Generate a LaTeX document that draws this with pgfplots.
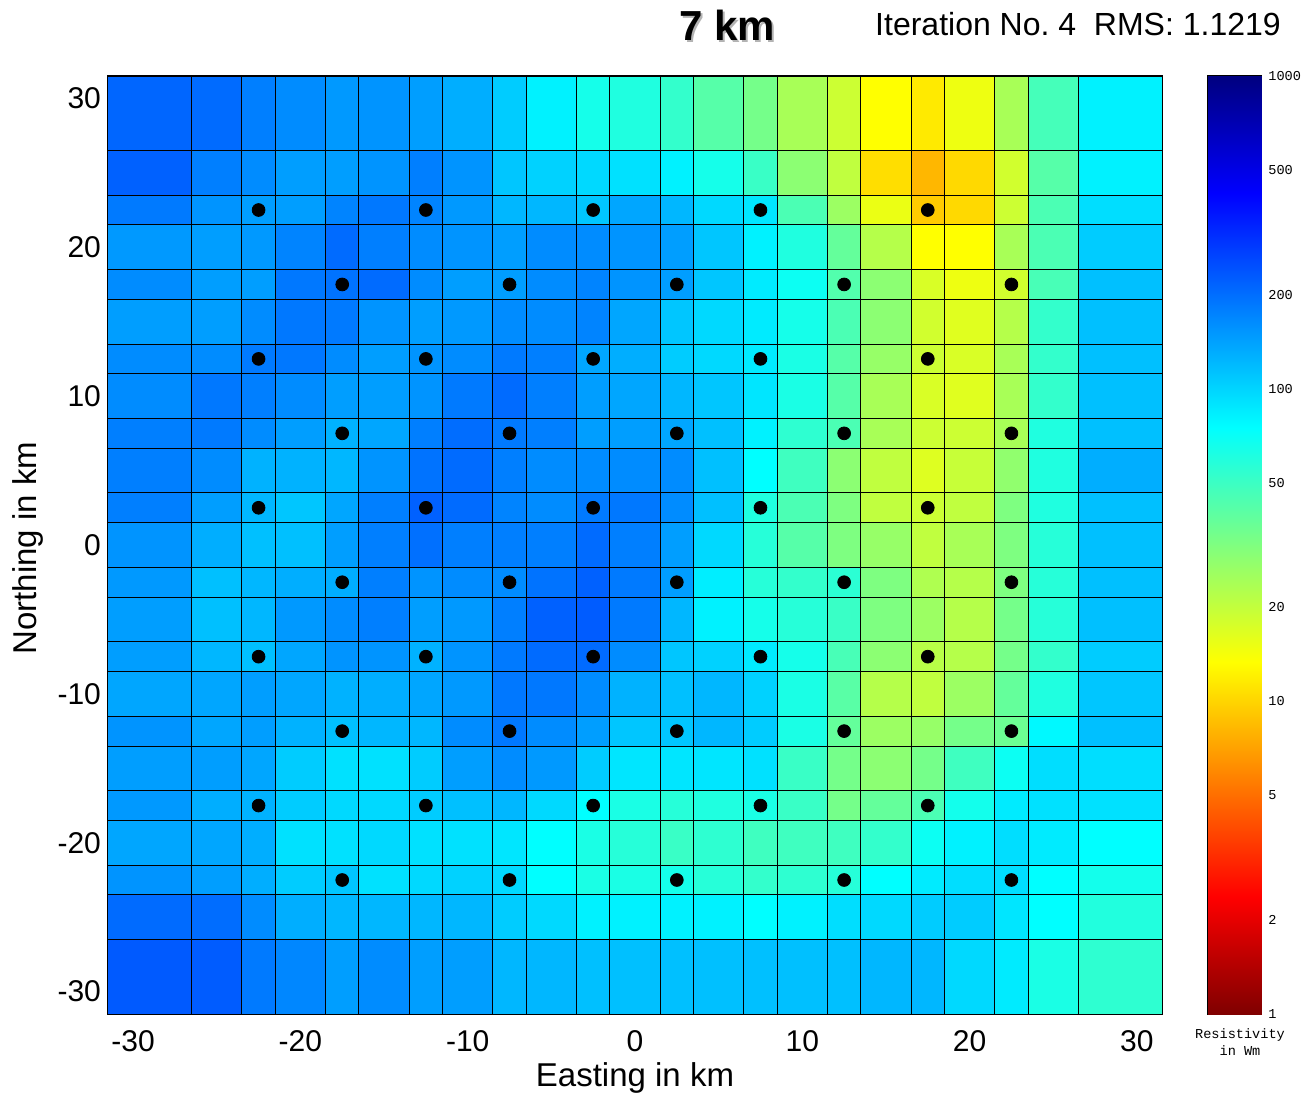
\documentclass[border=0pt]{standalone}
\usepackage{pgfplots}
\pgfplotsset{compat=1.18}
\usepackage{pgfplotstable}
\usepackage{fontspec}
\setmainfont{Liberation Sans}
\newfontfamily\monofont{Liberation Mono}
\pgfplotsset{colormap={jetr}{rgb(0cm)=(0.5,0,0); rgb(1cm)=(1,0,0); rgb(3cm)=(1,1,0); rgb(5cm)=(0,1,1); rgb(7cm)=(0,0,1); rgb(8cm)=(0,0,0.5)}}

% Resistivity (Ohm m) at each cell; vertex (x,y) carries the value of the cell whose lower-left corner it is
\pgfplotstableread[row sep=\\]{
x y r\\
-31.5 -31.5 230\\ -26.5 -31.5 226\\ -23.5 -31.5 184\\ -21.5 -31.5 169\\ -18.5 -31.5 145\\ -16.5 -31.5 163\\ -13.5 -31.5 145\\ -11.5 -31.5 145\\ -8.5 -31.5 122\\ -6.5 -31.5 122\\ -3.5 -31.5 115\\ -1.5 -31.5 115\\ 1.5 -31.5 115\\ 3.5 -31.5 115\\ 6.5 -31.5 115\\ 8.5 -31.5 115\\ 11.5 -31.5 115\\ 13.5 -31.5 122\\ 16.5 -31.5 122\\ 18.5 -31.5 97\\ 21.5 -31.5 86\\ 23.5 -31.5 63\\ 26.5 -31.5 55\\ 31.5 -31.5 55\\
-31.5 -26.5 204\\ -26.5 -26.5 201\\ -23.5 -26.5 163\\ -21.5 -26.5 130\\ -18.5 -26.5 122\\ -16.5 -26.5 122\\ -13.5 -26.5 122\\ -11.5 -26.5 122\\ -8.5 -26.5 106\\ -6.5 -26.5 97\\ -3.5 -26.5 82\\ -1.5 -26.5 82\\ 1.5 -26.5 82\\ 3.5 -26.5 82\\ 6.5 -26.5 75\\ 8.5 -26.5 82\\ 11.5 -26.5 94\\ 13.5 -26.5 97\\ 16.5 -26.5 106\\ 18.5 -26.5 106\\ 21.5 -26.5 89\\ 23.5 -26.5 75\\ 26.5 -26.5 60\\ 31.5 -26.5 60\\
-31.5 -23.5 155\\ -26.5 -23.5 145\\ -23.5 -23.5 130\\ -21.5 -23.5 106\\ -18.5 -23.5 110\\ -16.5 -23.5 92\\ -13.5 -23.5 97\\ -11.5 -23.5 102\\ -8.5 -23.5 97\\ -6.5 -23.5 75\\ -3.5 -23.5 63\\ -1.5 -23.5 63\\ 1.5 -23.5 65\\ 3.5 -23.5 58\\ 6.5 -23.5 53\\ 8.5 -23.5 55\\ 11.5 -23.5 58\\ 13.5 -23.5 75\\ 16.5 -23.5 86\\ 18.5 -23.5 94\\ 21.5 -23.5 94\\ 23.5 -23.5 75\\ 26.5 -23.5 66\\ 31.5 -23.5 66\\
-31.5 -21.5 137\\ -26.5 -21.5 137\\ -23.5 -21.5 130\\ -21.5 -21.5 92\\ -18.5 -21.5 92\\ -16.5 -21.5 97\\ -13.5 -21.5 92\\ -11.5 -21.5 92\\ -8.5 -21.5 89\\ -6.5 -21.5 75\\ -3.5 -21.5 63\\ -1.5 -21.5 58\\ 1.5 -21.5 51\\ 3.5 -21.5 55\\ 6.5 -21.5 49\\ 8.5 -21.5 49\\ 11.5 -21.5 49\\ 13.5 -21.5 53\\ 16.5 -21.5 69\\ 18.5 -21.5 82\\ 21.5 -21.5 94\\ 23.5 -21.5 86\\ 26.5 -21.5 75\\ 31.5 -21.5 75\\
-31.5 -18.5 150\\ -26.5 -18.5 130\\ -23.5 -18.5 126\\ -21.5 -18.5 106\\ -18.5 -18.5 97\\ -16.5 -18.5 97\\ -13.5 -18.5 106\\ -11.5 -18.5 115\\ -8.5 -18.5 122\\ -6.5 -18.5 97\\ -3.5 -18.5 75\\ -1.5 -18.5 63\\ 1.5 -18.5 58\\ 3.5 -18.5 61\\ 6.5 -18.5 63\\ 8.5 -18.5 51\\ 11.5 -18.5 34\\ 13.5 -18.5 38\\ 16.5 -18.5 45\\ 18.5 -18.5 66\\ 21.5 -18.5 86\\ 23.5 -18.5 92\\ 26.5 -18.5 92\\ 31.5 -18.5 92\\
-31.5 -16.5 145\\ -26.5 -16.5 145\\ -23.5 -16.5 137\\ -21.5 -16.5 106\\ -18.5 -16.5 92\\ -16.5 -16.5 92\\ -13.5 -16.5 106\\ -11.5 -16.5 145\\ -8.5 -16.5 163\\ -6.5 -16.5 150\\ -3.5 -16.5 106\\ -1.5 -16.5 89\\ 1.5 -16.5 89\\ 3.5 -16.5 89\\ 6.5 -16.5 92\\ 8.5 -16.5 51\\ 11.5 -16.5 34\\ 13.5 -16.5 29\\ 16.5 -16.5 34\\ 18.5 -16.5 49\\ 21.5 -16.5 69\\ 23.5 -16.5 94\\ 26.5 -16.5 94\\ 31.5 -16.5 94\\
-31.5 -13.5 155\\ -26.5 -13.5 137\\ -23.5 -13.5 145\\ -21.5 -13.5 126\\ -18.5 -13.5 115\\ -16.5 -13.5 122\\ -13.5 -13.5 122\\ -11.5 -13.5 163\\ -8.5 -13.5 187\\ -6.5 -13.5 163\\ -3.5 -13.5 145\\ -1.5 -13.5 110\\ 1.5 -13.5 110\\ 3.5 -13.5 122\\ 6.5 -13.5 106\\ 8.5 -13.5 63\\ 11.5 -13.5 38\\ 13.5 -13.5 26\\ 16.5 -13.5 27\\ 18.5 -13.5 34\\ 21.5 -13.5 36\\ 23.5 -13.5 78\\ 26.5 -13.5 115\\ 31.5 -13.5 115\\
-31.5 -11.5 137\\ -26.5 -11.5 137\\ -23.5 -11.5 145\\ -21.5 -11.5 137\\ -18.5 -11.5 126\\ -16.5 -11.5 130\\ -13.5 -11.5 137\\ -11.5 -11.5 150\\ -8.5 -11.5 187\\ -6.5 -11.5 187\\ -3.5 -11.5 163\\ -1.5 -11.5 126\\ 1.5 -11.5 115\\ 3.5 -11.5 122\\ 6.5 -11.5 102\\ 8.5 -11.5 63\\ 11.5 -11.5 41\\ 13.5 -11.5 22\\ 16.5 -11.5 20.5\\ 18.5 -11.5 26\\ 21.5 -11.5 38\\ 23.5 -11.5 61\\ 26.5 -11.5 110\\ 31.5 -11.5 110\\
-31.5 -8.5 145\\ -26.5 -8.5 122\\ -23.5 -8.5 115\\ -21.5 -8.5 137\\ -18.5 -8.5 155\\ -16.5 -8.5 155\\ -13.5 -8.5 126\\ -11.5 -8.5 155\\ -8.5 -8.5 184\\ -6.5 -8.5 204\\ -3.5 -8.5 204\\ -1.5 -8.5 163\\ 1.5 -8.5 110\\ 3.5 -8.5 102\\ 6.5 -8.5 86\\ 8.5 -8.5 65\\ 11.5 -8.5 46\\ 13.5 -8.5 29\\ 16.5 -8.5 21.6\\ 18.5 -8.5 22\\ 21.5 -8.5 34\\ 23.5 -8.5 53\\ 26.5 -8.5 106\\ 31.5 -8.5 106\\
-31.5 -6.5 145\\ -26.5 -6.5 115\\ -23.5 -6.5 122\\ -21.5 -6.5 150\\ -18.5 -6.5 163\\ -16.5 -6.5 178\\ -13.5 -6.5 145\\ -11.5 -6.5 150\\ -8.5 -6.5 178\\ -6.5 -6.5 219\\ -3.5 -6.5 226\\ -1.5 -6.5 184\\ 1.5 -6.5 122\\ 3.5 -6.5 82\\ 6.5 -6.5 65\\ 8.5 -6.5 58\\ 11.5 -6.5 51\\ 13.5 -6.5 32\\ 16.5 -6.5 26\\ 18.5 -6.5 22\\ 21.5 -6.5 34\\ 23.5 -6.5 58\\ 26.5 -6.5 115\\ 31.5 -6.5 115\\
-31.5 -3.5 150\\ -26.5 -3.5 115\\ -23.5 -3.5 122\\ -21.5 -3.5 130\\ -18.5 -3.5 130\\ -16.5 -3.5 178\\ -13.5 -3.5 155\\ -11.5 -3.5 163\\ -8.5 -3.5 163\\ -6.5 -3.5 194\\ -3.5 -3.5 219\\ -1.5 -3.5 184\\ 1.5 -3.5 145\\ 3.5 -3.5 84\\ 6.5 -3.5 58\\ 8.5 -3.5 53\\ 11.5 -3.5 56\\ 13.5 -3.5 32\\ 16.5 -3.5 23\\ 18.5 -3.5 22\\ 21.5 -3.5 32\\ 23.5 -3.5 58\\ 26.5 -3.5 115\\ 31.5 -3.5 115\\
-31.5 -1.5 155\\ -26.5 -1.5 130\\ -23.5 -1.5 115\\ -21.5 -1.5 115\\ -18.5 -1.5 145\\ -16.5 -1.5 178\\ -13.5 -1.5 197\\ -11.5 -1.5 178\\ -8.5 -1.5 178\\ -6.5 -1.5 178\\ -3.5 -1.5 204\\ -1.5 -1.5 178\\ 1.5 -1.5 145\\ 3.5 -1.5 97\\ 6.5 -1.5 58\\ 8.5 -1.5 42\\ 11.5 -1.5 32\\ 13.5 -1.5 27\\ 16.5 -1.5 20.5\\ 18.5 -1.5 24\\ 21.5 -1.5 32\\ 23.5 -1.5 58\\ 26.5 -1.5 115\\ 31.5 -1.5 115\\
-31.5 1.5 178\\ -26.5 1.5 145\\ -23.5 1.5 122\\ -21.5 1.5 110\\ -18.5 1.5 137\\ -16.5 1.5 178\\ -13.5 1.5 219\\ -11.5 1.5 204\\ -8.5 1.5 172\\ -6.5 1.5 163\\ -3.5 1.5 184\\ -1.5 1.5 187\\ 1.5 1.5 163\\ 3.5 1.5 115\\ 6.5 1.5 61\\ 8.5 1.5 45\\ 11.5 1.5 32\\ 13.5 1.5 20.5\\ 16.5 1.5 18.8\\ 18.5 1.5 20.5\\ 21.5 1.5 32\\ 23.5 1.5 61\\ 26.5 1.5 115\\ 31.5 1.5 115\\
-31.5 3.5 178\\ -26.5 3.5 163\\ -23.5 3.5 126\\ -21.5 3.5 126\\ -18.5 3.5 122\\ -16.5 3.5 155\\ -13.5 3.5 194\\ -11.5 3.5 204\\ -8.5 3.5 178\\ -6.5 3.5 163\\ -3.5 3.5 163\\ -1.5 3.5 163\\ 1.5 3.5 163\\ 3.5 3.5 115\\ 6.5 3.5 75\\ 8.5 3.5 49\\ 11.5 3.5 29\\ 13.5 3.5 20.5\\ 16.5 3.5 16.7\\ 18.5 3.5 19.5\\ 21.5 3.5 28\\ 23.5 3.5 61\\ 26.5 3.5 130\\ 31.5 3.5 130\\
-31.5 6.5 178\\ -26.5 6.5 184\\ -23.5 6.5 163\\ -21.5 6.5 145\\ -18.5 6.5 126\\ -16.5 6.5 137\\ -13.5 6.5 178\\ -11.5 6.5 201\\ -8.5 6.5 184\\ -6.5 6.5 178\\ -3.5 6.5 145\\ -1.5 6.5 145\\ 1.5 6.5 137\\ 3.5 6.5 115\\ 6.5 6.5 82\\ 8.5 6.5 55\\ 11.5 6.5 45\\ 13.5 6.5 24\\ 16.5 6.5 18.8\\ 18.5 6.5 18.8\\ 21.5 6.5 24\\ 23.5 6.5 61\\ 26.5 6.5 115\\ 31.5 6.5 115\\
-31.5 8.5 163\\ -26.5 8.5 187\\ -23.5 8.5 178\\ -21.5 8.5 163\\ -18.5 8.5 145\\ -16.5 8.5 145\\ -13.5 8.5 155\\ -11.5 8.5 184\\ -8.5 8.5 204\\ -6.5 8.5 178\\ -3.5 8.5 145\\ -1.5 8.5 137\\ 1.5 8.5 122\\ 3.5 8.5 110\\ 6.5 8.5 89\\ 8.5 8.5 63\\ 11.5 8.5 42\\ 13.5 8.5 24\\ 16.5 8.5 17.3\\ 18.5 8.5 16.4\\ 21.5 8.5 24\\ 23.5 8.5 53\\ 26.5 8.5 115\\ 31.5 8.5 115\\
-31.5 11.5 163\\ -26.5 11.5 163\\ -23.5 11.5 184\\ -21.5 11.5 187\\ -18.5 11.5 163\\ -16.5 11.5 145\\ -13.5 11.5 155\\ -11.5 11.5 163\\ -8.5 11.5 184\\ -6.5 11.5 178\\ -3.5 11.5 137\\ -1.5 11.5 130\\ 1.5 11.5 106\\ 3.5 11.5 97\\ 6.5 11.5 86\\ 8.5 11.5 63\\ 11.5 11.5 42\\ 13.5 11.5 27\\ 16.5 11.5 18.8\\ 18.5 11.5 17.3\\ 21.5 11.5 24\\ 23.5 11.5 53\\ 26.5 11.5 115\\ 31.5 11.5 115\\
-31.5 13.5 145\\ -26.5 13.5 145\\ -23.5 13.5 163\\ -21.5 13.5 187\\ -18.5 13.5 184\\ -16.5 13.5 155\\ -13.5 13.5 145\\ -11.5 13.5 150\\ -8.5 13.5 163\\ -6.5 13.5 163\\ -3.5 13.5 172\\ -1.5 13.5 137\\ 1.5 13.5 110\\ 3.5 13.5 97\\ 6.5 13.5 86\\ 8.5 13.5 65\\ 11.5 13.5 45\\ 13.5 13.5 29\\ 16.5 13.5 18.2\\ 18.5 13.5 16.4\\ 21.5 13.5 22\\ 23.5 13.5 53\\ 26.5 13.5 115\\ 31.5 13.5 115\\
-31.5 16.5 163\\ -26.5 16.5 145\\ -23.5 16.5 145\\ -21.5 16.5 187\\ -18.5 16.5 194\\ -16.5 16.5 204\\ -13.5 16.5 163\\ -11.5 16.5 145\\ -8.5 16.5 145\\ -6.5 16.5 163\\ -3.5 16.5 172\\ -1.5 16.5 155\\ 1.5 16.5 145\\ 3.5 16.5 110\\ 6.5 16.5 86\\ 8.5 16.5 69\\ 11.5 16.5 43\\ 13.5 16.5 29\\ 16.5 16.5 17.3\\ 18.5 16.5 15\\ 21.5 16.5 18.2\\ 23.5 16.5 46\\ 26.5 16.5 115\\ 31.5 16.5 115\\
-31.5 18.5 150\\ -26.5 18.5 145\\ -23.5 18.5 150\\ -21.5 18.5 172\\ -18.5 18.5 204\\ -16.5 18.5 178\\ -13.5 18.5 163\\ -11.5 18.5 155\\ -8.5 18.5 145\\ -6.5 18.5 163\\ -3.5 18.5 163\\ -1.5 18.5 155\\ 1.5 18.5 145\\ 3.5 18.5 110\\ 6.5 18.5 82\\ 8.5 18.5 61\\ 11.5 18.5 38\\ 13.5 18.5 22\\ 16.5 18.5 13.3\\ 18.5 18.5 13.3\\ 21.5 18.5 24\\ 23.5 18.5 45\\ 26.5 18.5 106\\ 31.5 18.5 106\\
-31.5 21.5 184\\ -26.5 21.5 155\\ -23.5 21.5 145\\ -21.5 21.5 145\\ -18.5 21.5 172\\ -16.5 21.5 187\\ -13.5 21.5 172\\ -11.5 21.5 150\\ -8.5 21.5 122\\ -6.5 21.5 122\\ -3.5 21.5 110\\ -1.5 21.5 137\\ 1.5 21.5 122\\ 3.5 21.5 97\\ 6.5 21.5 89\\ 8.5 21.5 45\\ 11.5 21.5 26\\ 13.5 21.5 15.3\\ 16.5 21.5 9.4\\ 18.5 21.5 10.3\\ 21.5 21.5 18.8\\ 23.5 21.5 45\\ 26.5 21.5 94\\ 31.5 21.5 94\\
-31.5 23.5 219\\ -26.5 23.5 178\\ -23.5 23.5 163\\ -21.5 23.5 145\\ -18.5 23.5 145\\ -16.5 23.5 155\\ -13.5 23.5 178\\ -11.5 23.5 155\\ -8.5 23.5 110\\ -6.5 23.5 102\\ -3.5 23.5 97\\ -1.5 23.5 92\\ 1.5 23.5 82\\ 3.5 23.5 65\\ 6.5 23.5 51\\ 8.5 23.5 29\\ 11.5 23.5 20.5\\ 13.5 23.5 10.7\\ 16.5 23.5 8.2\\ 18.5 23.5 10.3\\ 21.5 23.5 18.2\\ 23.5 23.5 42\\ 26.5 23.5 82\\ 31.5 23.5 82\\
-31.5 26.5 211\\ -26.5 26.5 204\\ -23.5 26.5 178\\ -21.5 26.5 163\\ -18.5 26.5 150\\ -16.5 26.5 155\\ -13.5 26.5 145\\ -11.5 26.5 130\\ -8.5 26.5 106\\ -6.5 26.5 82\\ -3.5 26.5 65\\ -1.5 26.5 61\\ 1.5 26.5 53\\ 3.5 26.5 42\\ 6.5 26.5 34\\ 8.5 26.5 24\\ 11.5 26.5 18.8\\ 13.5 26.5 13.3\\ 16.5 26.5 11.6\\ 18.5 26.5 15\\ 21.5 26.5 24\\ 23.5 26.5 47\\ 26.5 26.5 82\\ 31.5 26.5 82\\
-31.5 31.5 211\\ -26.5 31.5 204\\ -23.5 31.5 178\\ -21.5 31.5 163\\ -18.5 31.5 150\\ -16.5 31.5 155\\ -13.5 31.5 145\\ -11.5 31.5 130\\ -8.5 31.5 106\\ -6.5 31.5 82\\ -3.5 31.5 65\\ -1.5 31.5 61\\ 1.5 31.5 53\\ 3.5 31.5 42\\ 6.5 31.5 34\\ 8.5 31.5 24\\ 11.5 31.5 18.8\\ 13.5 31.5 13.3\\ 16.5 31.5 11.6\\ 18.5 31.5 15\\ 21.5 31.5 24\\ 23.5 31.5 47\\ 26.5 31.5 82\\ 31.5 31.5 82\\
}\cells

\begin{document}
\begin{tikzpicture}
\useasboundingbox (-54pt,-42.5pt) rectangle (597pt,507pt);
\begin{axis}[
  at={(0,0)}, anchor=south west,
  scale only axis, width=527pt, height=469pt,
  xmin=-31.5, xmax=31.5, ymin=-31.5, ymax=31.5,
  xtick={-30,-20,...,30}, ytick={-30,-20,...,30},
  /pgf/number format/assume math mode=true,
  tick label style={font=\fontsize{15}{15}\selectfont},
  xticklabel style={yshift=-4.5pt},
  major tick length=0pt,
  axis line style={black, line width=0.6pt},
  colormap name=jetr,
  point meta min=0, point meta max=3,
]
\addplot[surf, shader=flat corner, draw=black, line width=0.5pt,
  mesh/rows=24, mesh/cols=24,
  point meta={log10(\thisrow{r})}]
  table[x=x, y=y] {\cells};
\addplot[only marks, mark=*, mark size=3.2pt, black] coordinates {
 (-22.5,22.5) (-12.5,22.5) (-2.5,22.5) (7.5,22.5) (17.5,22.5)
 (-17.5,17.5) (-7.5,17.5) (2.5,17.5) (12.5,17.5) (22.5,17.5)
 (-22.5,12.5) (-12.5,12.5) (-2.5,12.5) (7.5,12.5) (17.5,12.5)
 (-17.5,7.5) (-7.5,7.5) (2.5,7.5) (12.5,7.5) (22.5,7.5)
 (-22.5,2.5) (-12.5,2.5) (-2.5,2.5) (7.5,2.5) (17.5,2.5)
 (-17.5,-2.5) (-7.5,-2.5) (2.5,-2.5) (12.5,-2.5) (22.5,-2.5)
 (-22.5,-7.5) (-12.5,-7.5) (-2.5,-7.5) (7.5,-7.5) (17.5,-7.5)
 (-17.5,-12.5) (-7.5,-12.5) (2.5,-12.5) (12.5,-12.5) (22.5,-12.5)
 (-22.5,-17.5) (-12.5,-17.5) (-2.5,-17.5) (7.5,-17.5) (17.5,-17.5)
 (-17.5,-22.5) (-7.5,-22.5) (2.5,-22.5) (12.5,-22.5) (22.5,-22.5)
};
\end{axis}
% colour scale: log10 of resistivity from 1 to 1000 Ohm m
\begin{axis}[
  at={(550pt,0pt)}, anchor=south west,
  scale only axis, width=26.5pt, height=469pt,
  xmin=0, xmax=1, ymin=0, ymax=3,
  xtick=\empty,
  ytick={0,0.30103,0.69897,1,1.30103,1.69897,2,2.30103,2.69897,3},
  yticklabels={1,2,5,10,20,50,100,200,500,1000},
  yticklabel pos=right,
  yticklabel style={font=\monofont\fontsize{6.8}{6.8}\selectfont, inner sep=0pt, xshift=3.5pt},
  tick align=inside, major tick length=5pt,
  axis line style={black, line width=0.6pt},
  colormap name=jetr,
  point meta min=0, point meta max=3,
]
\addplot[surf, shader=interp, mesh/rows=2, mesh/cols=2, point meta=y]
  coordinates {(0,0) (1,0) (0,3) (1,3)};
\end{axis}
\node[font=\fontsize{16.5}{16.5}\selectfont] at (263.5pt,-32pt) {Easting in km};
\node[font=\fontsize{16.5}{16.5}\selectfont, rotate=90] at (-40pt,233pt) {Northing in km};
\node[font=\bfseries\fontsize{21}{21}\selectfont, text=black!50, opacity=0.6] at (310.7pt,493.3pt) {7 km};
\node[font=\bfseries\fontsize{21}{21}\selectfont] at (309.5pt,494.5pt) {7 km};
\node[font=\fontsize{16}{16}\selectfont] at (485pt,495pt) {Iteration No.\ 4\ \ RMS: 1.1219};
\node[font=\monofont\fontsize{6.8}{6.8}\selectfont] at (566pt,-10.5pt) {Resistivity};
\node[font=\monofont\fontsize{6.8}{6.8}\selectfont] at (566pt,-18.5pt) {in Wm};
\end{tikzpicture}
\end{document}
